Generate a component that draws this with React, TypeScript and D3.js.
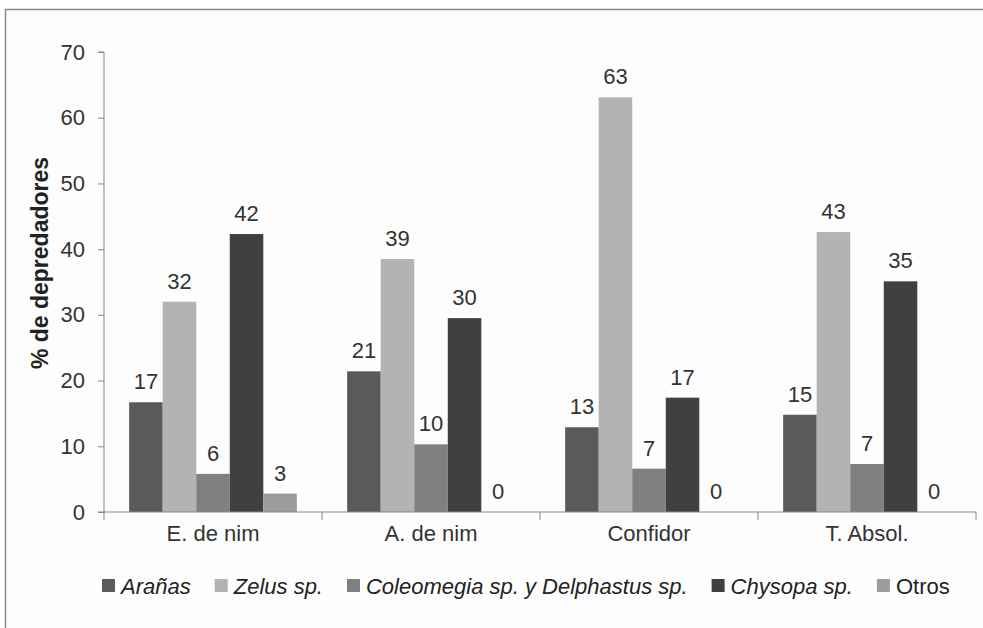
import React, { useRef, useEffect } from 'react';
import * as d3 from 'd3';

const categories = ['E. de nim', 'A. de nim', 'Confidor', 'T. Absol.'];
const seriesNames = ['Arañas', 'Zelus sp.', 'Coleomegia sp. y Delphastus sp.', 'Chysopa sp.', 'Otros'];
const seriesItalic = [true, true, true, true, false];
const aranas = [16.7, 21.4, 12.9, 14.8];
const zelus = [32.0, 38.5, 63.1, 42.6];
const coleomegia = [5.8, 10.3, 6.6, 7.3];
const chysopa = [42.3, 29.5, 17.4, 35.1];
const otros = [2.8, 0, 0, 0];
const yTicks = [0, 10, 20, 30, 40, 50, 60, 70];
const colors = ['#5a5a5a', '#b3b3b3', '#808080', '#404040', '#9c9c9c'];

export default function App() {
  const svgRef = useRef<SVGSVGElement | null>(null);

  useEffect(() => {
    const W = 983, H = 628;
    const margin = { top: 52, right: 7, bottom: 116, left: 104 };
    const width = W - margin.left - margin.right;
    const height = H - margin.top - margin.bottom;
    const font = '"Liberation Sans", Arial, sans-serif';

    const svg = d3.select(svgRef.current);
    svg.selectAll('*').remove();
    svg.attr('width', W).attr('height', H);

    svg.append('rect').attr('x', 0).attr('y', 0).attr('width', W).attr('height', H).attr('fill', '#fff');
    svg.append('rect').attr('x', 5.5).attr('y', 9.5).attr('width', W).attr('height', H)
      .attr('fill', '#fdfdfd').attr('stroke', '#888').attr('stroke-width', 1.5);

    const g = svg.append('g').attr('transform', `translate(${margin.left},${margin.top})`);

    const x0 = d3.scaleBand().domain(categories).range([0, width]).paddingInner(0).paddingOuter(0);
    const x1 = d3.scaleBand().domain(seriesNames).range([0, x0.bandwidth()]).paddingOuter(0.75).paddingInner(0);
    const y = d3.scaleLinear().domain([0, 70]).range([height, 0]);

    const series = [aranas, zelus, coleomegia, chysopa, otros];
    const rows = categories.map((c, i) => ({ cat: c, vals: series.map((s, j) => ({ name: seriesNames[j], v: s[i], j })) }));

    const groups = g.selectAll('g.grp').data(rows).enter().append('g')
      .attr('transform', d => `translate(${x0(d.cat)},0)`);

    groups.selectAll('rect').data(d => d.vals).enter().append('rect')
      .attr('x', d => x1(d.name)!)
      .attr('y', d => y(d.v))
      .attr('width', x1.bandwidth())
      .attr('height', d => height - y(d.v))
      .attr('fill', d => colors[d.j]);

    groups.selectAll('text').data(d => d.vals).enter().append('text')
      .attr('x', d => x1(d.name)! + x1.bandwidth() / 2)
      .attr('y', d => y(d.v) - 13)
      .attr('text-anchor', 'middle')
      .attr('font-family', font)
      .attr('font-size', 22)
      .attr('fill', '#333')
      .text(d => Math.round(d.v));

    // y axis
    const yAxis = g.append('g').call(d3.axisLeft(y).tickValues(yTicks).tickSize(6).tickPadding(13));
    yAxis.select('.domain').attr('stroke', '#888').attr('d', `M-6,${height}H0V0H-6`);
    yAxis.selectAll('.tick line').attr('stroke', '#888');
    yAxis.selectAll('text').attr('font-family', font).attr('font-size', 22).attr('fill', '#333');

    // x axis
    const xAxis = g.append('g').attr('transform', `translate(0,${height})`)
      .call(d3.axisBottom(x0).tickSize(0).tickPadding(13));
    xAxis.select('.domain').attr('stroke', '#888').attr('d', `M0,0H${width}`);
    xAxis.selectAll('text').attr('font-family', font).attr('font-size', 22).attr('fill', '#333');
    const bounds = categories.map(c => x0(c)!).concat([width]);
    xAxis.selectAll('line.sep').data(bounds).enter().append('line')
      .attr('x1', d => d).attr('x2', d => d).attr('y1', 0).attr('y2', 8).attr('stroke', '#888');

    // y title
    g.append('text')
      .attr('transform', `translate(-56,${263 - margin.top}) rotate(-90)`)
      .attr('text-anchor', 'middle')
      .attr('font-family', font)
      .attr('font-size', 23)
      .attr('font-weight', 'bold')
      .attr('fill', '#222')
      .text('% de depredadores');

    // legend
    const legend = svg.append('g').attr('transform', 'translate(102,586)');
    let lx = 0;
    seriesNames.forEach((n, i) => {
      const item = legend.append('g').attr('transform', `translate(${lx},0)`);
      item.append('rect').attr('x', 0).attr('y', -7).attr('width', 13).attr('height', 13).attr('fill', colors[i]);
      const t = item.append('text').attr('x', 19).attr('y', 0).attr('dy', '0.35em')
        .attr('font-family', font).attr('font-size', 22).attr('fill', '#222')
        .attr('font-style', seriesItalic[i] ? 'italic' : 'normal').text(n);
      const w = (t.node() as SVGTextElement).getComputedTextLength();
      lx += 19 + w + 24;
    });
  }, []);

  return <svg ref={svgRef} style={{ display: 'block', position: 'absolute', left: 0, top: 0 }} />;
}
